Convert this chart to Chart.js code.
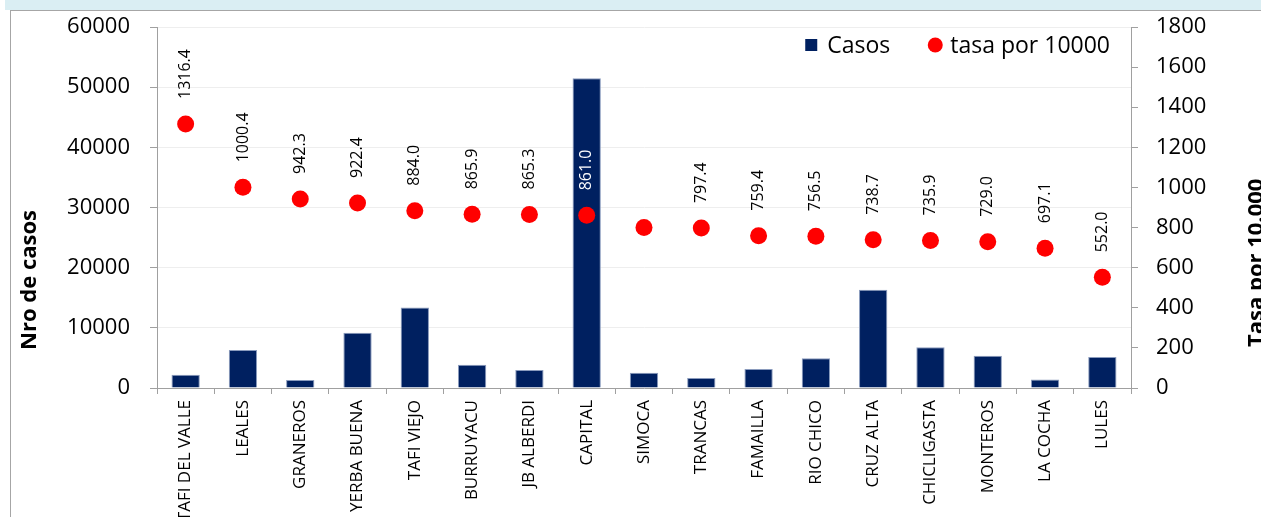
<!DOCTYPE html>
<html>
	<head>
		<meta charset="UTF-8" />
		<title>Casos y tasa por 10000 por departamento</title>
		<style type="text/css">
			body { margin: 0; background: #fff; }
			.band { position: absolute; left: 5px; top: 0; width: 1256px; height: 10px; background: #daeef3; }
			.frame { position: absolute; left: 10px; top: 10px; width: 1251px; height: 507px;
				border-left: 1px solid #a6a6a6; border-top: 1px solid #a6a6a6; }
			.chartBox { position: absolute; left: 0; top: 0; width: 1261px; height: 517px; }
		</style>
	</head>
	<body>
		<div class="band"></div>
		<div class="frame"></div>
		<div class="chartBox">
			<canvas id="myChart"></canvas>
		</div>

		<script src="https://cdn.jsdelivr.net/npm/chart.js@4"></script>
		<script>
		const departamentos = ['TAFI DEL VALLE', 'LEALES', 'GRANEROS', 'YERBA BUENA', 'TAFI VIEJO', 'BURRUYACU',
			'JB ALBERDI', 'CAPITAL', 'SIMOCA', 'TRANCAS', 'FAMAILLA', 'RIO CHICO', 'CRUZ ALTA', 'CHICLIGASTA',
			'MONTEROS', 'LA COCHA', 'LULES'];
		const casos = [2200, 6330, 1330, 9170, 13380, 3880, 3000, 51500, 2550, 1670, 3170, 4930, 16330, 6770, 5380, 1430, 5170];
		const tasa = [1316.4, 1000.4, 942.3, 922.4, 884.0, 865.9, 865.3, 861.0, 800.0, 797.4, 759.4, 756.5, 738.7, 735.9, 729.0, 697.1, 552.0];
		// SIMOCA has no value label in the original
		const sinEtiqueta = ['SIMOCA'];
		const ticksCasos = [0, 10000, 20000, 30000, 40000, 50000, 60000];
		const ticksTasa = [0, 200, 400, 600, 800, 1000, 1200, 1400, 1600, 1800];

		const FONT = '"Open Sans", sans-serif';
		const AXIS = '#a0a0a0';

		// rotated value labels above the red points
		const etiquetas = {
			id: 'etiquetas',
			afterDatasetsDraw(chart) {
				const ctx = chart.ctx;
				const puntos = chart.getDatasetMeta(0).data;
				const barras = chart.getDatasetMeta(1).data;
				ctx.save();
				ctx.font = '16px ' + FONT;
				ctx.textAlign = 'left';
				ctx.textBaseline = 'middle';
				puntos.forEach((pt, i) => {
					if (sinEtiqueta.includes(departamentos[i])) return;
					const txt = tasa[i].toFixed(1);
					const y0 = pt.y - 25;
					const arriba = y0 - ctx.measureText(txt).width;
					ctx.save();
					ctx.translate(pt.x, y0);
					ctx.rotate(-Math.PI / 2);
					ctx.fillStyle = barras[i].y < arriba ? '#fff' : '#000';
					ctx.fillText(txt, 0, 0);
					ctx.restore();
				});
				ctx.restore();
			}
		};

		// legend inside the plot, top right, and the two axis titles
		const extras = {
			id: 'extras',
			afterDraw(chart) {
				const ctx = chart.ctx;
				const area = chart.chartArea;
				ctx.save();
				ctx.font = '23px ' + FONT;
				ctx.textBaseline = 'middle';
				ctx.textAlign = 'left';
				ctx.fillStyle = '#000';
				const yl = area.top + 18;
				let x = area.right - 21;
				const t2 = 'tasa por 10000';
				x -= ctx.measureText(t2).width;
				ctx.fillText(t2, x, yl + 1);
				x -= 8 + 7;
				ctx.fillStyle = '#ff0000';
				ctx.beginPath();
				ctx.arc(x, yl, 7.5, 0, Math.PI * 2);
				ctx.fill();
				x -= 7 + 38;
				const t1 = 'Casos';
				ctx.fillStyle = '#000';
				x -= ctx.measureText(t1).width;
				ctx.fillText(t1, x, yl + 1);
				x -= 10 + 12;
				ctx.fillStyle = '#002060';
				ctx.fillRect(x, yl - 6, 12, 12);

				ctx.font = 'bold 22px ' + FONT;
				ctx.fillStyle = '#000';
				ctx.textAlign = 'center';
				ctx.save();
				ctx.translate(30, 280);
				ctx.rotate(-Math.PI / 2);
				ctx.fillText('Nro de casos', 0, 0);
				ctx.restore();
				ctx.save();
				ctx.translate(1257, 347);
				ctx.rotate(-Math.PI / 2);
				ctx.textAlign = 'left';
				ctx.fillText('Tasa por 10.000', 0, 0);
				ctx.restore();
				ctx.restore();
			}
		};

		const ctx = document.getElementById('myChart').getContext('2d');
		const sinComa = v => String(v);

		const config = {
			type: 'bar',
			data: {
				labels: departamentos,
				datasets: [{
					type: 'line',
					label: 'tasa por 10000',
					data: tasa,
					yAxisID: 'y1',
					showLine: false,
					pointRadius: 8.5,
					pointHoverRadius: 8.5,
					pointBackgroundColor: '#ff0000',
					pointBorderWidth: 0,
					order: 1
				}, {
					label: 'Casos',
					data: casos,
					yAxisID: 'y',
					backgroundColor: '#002060',
					borderColor: '#8a9bbd',
					borderWidth: 1,
					barPercentage: 0.494,
					categoryPercentage: 1,
					order: 2
				}]
			},
			options: {
				responsive: true,
				maintainAspectRatio: false,
				animation: false,
				layout: { padding: { top: 27, left: 0, right: 0, bottom: 0 } },
				plugins: {
					legend: { display: false },
					tooltip: { enabled: false }
				},
				scales: {
					x: {
						grid: { offset: true, drawOnChartArea: false, tickLength: 6, tickColor: AXIS },
						border: { color: AXIS },
						ticks: { autoSkip: false, minRotation: 90, maxRotation: 90, padding: 6,
							color: '#000', font: { family: FONT, size: 17 } },
						afterFit(scale) { scale.height = 129; }
					},
					y: {
						position: 'left',
						min: 0, max: 60000,
						afterBuildTicks(scale) { scale.ticks = ticksCasos.map(v => ({ value: v })); },
						grid: { color: '#eeeeee', tickColor: AXIS, tickLength: 7 },
						border: { color: AXIS },
						ticks: { padding: 20, color: '#000', font: { family: FONT, size: 22 }, callback: sinComa },
						// tick padding would otherwise push the plot top down
						afterFit(scale) { scale.width = 157; scale.paddingTop = 13; scale.paddingBottom = 13; }
					},
					y1: {
						position: 'right',
						min: 0, max: 1800,
						afterBuildTicks(scale) { scale.ticks = ticksTasa.map(v => ({ value: v })); },
						grid: { drawOnChartArea: false, tickColor: AXIS, tickLength: 7 },
						border: { color: AXIS },
						ticks: { padding: 18, color: '#000', font: { family: FONT, size: 22 }, callback: sinComa },
						afterFit(scale) { scale.width = 130; scale.paddingTop = 13; scale.paddingBottom = 13; }
					}
				}
			},
			plugins: [etiquetas, extras]
		};

		const myChart = new Chart(ctx, config);
		</script>
	</body>
</html>
